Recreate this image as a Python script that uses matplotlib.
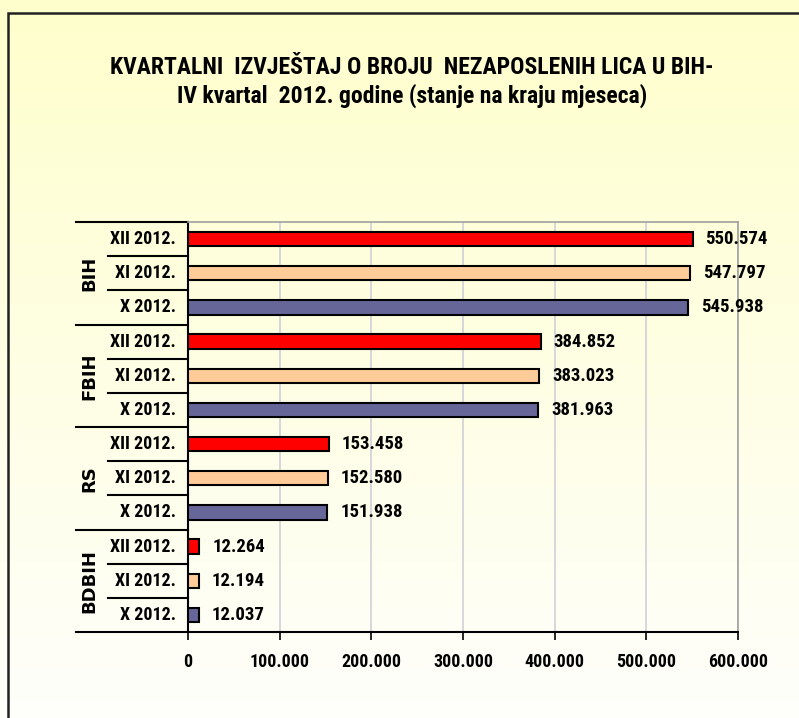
import matplotlib
matplotlib.use("Agg")
import matplotlib.pyplot as plt
import matplotlib.transforms as mtransforms
from matplotlib.patches import Rectangle
import numpy as np

# data, top to bottom
groups = ["BIH", "FBIH", "RS", "BDBIH"]
months = ["XII 2012.", "XI 2012.", "X 2012."]
bih = [550574, 547797, 545938]
fbih = [384852, 383023, 381963]
rs = [153458, 152580, 151938]
bdbih = [12264, 12194, 12037]
xticks = [0, 100000, 200000, 300000, 400000, 500000, 600000]
month_colors = ["#FF0000", "#FFCC99", "#666699"]

title = ("KVARTALNI  IZVJEŠTAJ O BROJU  NEZAPOSLENIH LICA U BIH-\n"
         "IV kvartal  2012. godine (stanje na kraju mjeseca)")

W, H = 799, 718
plt.rcParams['font.family'] = ['Roboto Condensed', 'DejaVu Sans']
fig = plt.figure(figsize=(W / 100, H / 100), dpi=100)

# background gradient
bg = fig.add_axes([0, 0, 1, 1], zorder=-10)
grad = np.linspace(0, 1, 256)[:, None]
top = np.array([1.0, 1.0, 0.80])
bot = np.array([0.997, 0.997, 0.985])
img = top[None, None, :] * (1 - grad[:, :, None]) + bot[None, None, :] * grad[:, :, None]
bg.imshow(img, aspect='auto', extent=[0, 1, 0, 1])
bg.set_xlim(0, 1)
bg.set_ylim(0, 1)
bg.axis('off')
# outer frame (left and top edges visible)
fig.patches.append(Rectangle((8 / W, -0.1), 1.2, (H - 13) / H + 0.1,
                             transform=fig.transFigure, fill=False,
                             edgecolor="#222222", lw=1.8, zorder=5))

fig.text((107 + 717) / 2 / W, 1 - 82 / H, title, ha='center', va='center',
         fontsize=17, fontweight='bold', linespacing=1.2)

left, right, ytop, ybot = 188, 738, 222, 632
ax = fig.add_axes([left / W, 1 - ybot / H, (right - left) / W, (ybot - ytop) / H])
ax.patch.set_alpha(0)

values = bih + fbih + rs + bdbih
labels = months * len(groups)
colors = month_colors * len(groups)
ypos = np.arange(len(values))
ax.barh(ypos, values, height=0.42, color=colors, edgecolor='black', lw=1.5, zorder=3)
for y, v in zip(ypos, values):
    ax.text(v + 14000, y, f"{v:,}".replace(",", "."), va='center', ha='left',
            fontsize=13.5, fontweight='bold')

ax.set_ylim(len(values) - 0.5, -0.5)
ax.set_xlim(0, 600000)
ax.set_xticks(xticks)
ax.set_xticklabels([f"{t:,}".replace(",", ".") for t in xticks],
                   fontsize=13, fontweight='bold')
ax.tick_params(axis='x', length=6, width=1.2, pad=9)
ax.set_yticks([])
ax.grid(axis='x', color='#d0d0d8', lw=1.2, zorder=0)
for s in ['top', 'right']:
    ax.spines[s].set_color('#a0a0a0')
    ax.spines[s].set_linewidth(1.2)
for s in ['left', 'bottom']:
    ax.spines[s].set_color('black')
    ax.spines[s].set_linewidth(1.5)

tr = mtransforms.blended_transform_factory(ax.transAxes, ax.transData)
xg = (76 - left) / (right - left)
xs = (108 - left) / (right - left)
for i, lab in enumerate(labels):
    ax.text((176 - left) / (right - left), i, lab, transform=tr, ha='right',
            va='center', fontsize=13, fontweight='bold')
for b in range(len(values) + 1):
    y = b - 0.5
    x0 = xg if b % 3 == 0 else xs
    ax.plot([x0, 0], [y, y], transform=tr, color='black', lw=1.5, clip_on=False)
for g, name in enumerate(groups):
    ax.text((89 - left) / (right - left), g * 3 + 1, name, transform=tr,
            rotation=90, ha='center', va='center', fontsize=13,
            fontweight='bold', family=['DejaVu Sans'])

fig.savefig("out.png", dpi=100)
